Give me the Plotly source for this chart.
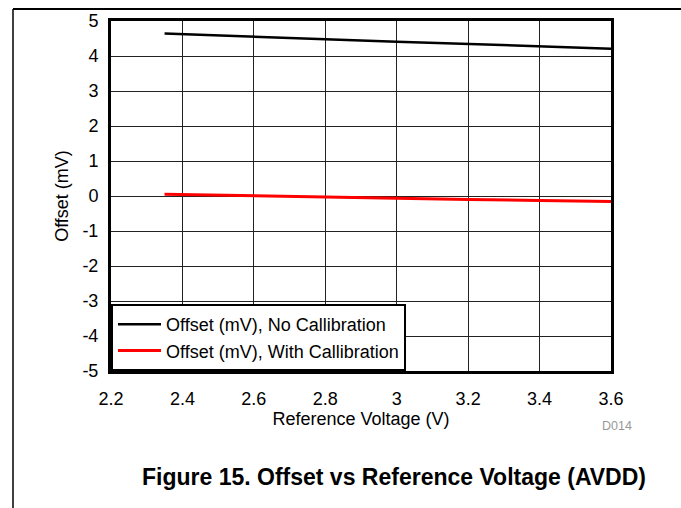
import plotly.graph_objects as go

# Data
voltage = [2.35, 2.6, 2.8, 3.0, 3.2, 3.4, 3.6]
offset_no_cal = [4.64, 4.56, 4.48, 4.41, 4.34, 4.28, 4.21]
offset_with_cal = [0.05, 0.0, -0.04, -0.07, -0.10, -0.13, -0.16]
x_ticks = [2.2, 2.4, 2.6, 2.8, 3.0, 3.2, 3.4, 3.6]
x_tick_text = ["2.2", "2.4", "2.6", "2.8", "3", "3.2", "3.4", "3.6"]
y_ticks = [-5, -4, -3, -2, -1, 0, 1, 2, 3, 4, 5]
y_tick_text = ["-5", "-4", "-3", "-2", "-1", "0", "1", "2", "3", "4", "5"]

FONT = "Arial, Liberation Sans, sans-serif"

fig = go.Figure()
fig.add_trace(go.Scatter(x=voltage, y=offset_no_cal, mode="lines",
                         name="Offset (mV), No Callibration",
                         line=dict(color="black", width=2.5)))
fig.add_trace(go.Scatter(x=voltage, y=offset_with_cal, mode="lines",
                         name="Offset (mV), With Callibration",
                         line=dict(color="#ff0000", width=3)))

fig.update_layout(
    width=681, height=508,
    margin=dict(l=111, r=70, t=21, b=137),
    paper_bgcolor="white", plot_bgcolor="white",
    font=dict(family=FONT, size=18, color="black"),
    showlegend=True,
    legend=dict(x=0, y=0, xanchor="left", yanchor="bottom",
                bgcolor="white", bordercolor="black", borderwidth=2,
                font=dict(size=18), tracegroupgap=0,
                itemwidth=43),
    xaxis=dict(range=[2.2, 3.6], tickvals=x_ticks, ticktext=x_tick_text,
               showgrid=True, gridcolor="#222", gridwidth=1,
               showline=True, linecolor="black", linewidth=3, mirror=True,
               ticks="", zeroline=False, ticklabelstandoff=9,
               title=dict(text="Reference Voltage (V)", standoff=4,
                          font=dict(size=18))),
    yaxis=dict(range=[-5, 5], tickvals=y_ticks, ticktext=y_tick_text,
               showgrid=True, gridcolor="#222", gridwidth=1,
               showline=True, linecolor="black", linewidth=3, mirror=True,
               ticks="", zeroline=False, ticklabelstandoff=6,
               title=dict(text="Offset (mV)", standoff=10,
                          font=dict(size=18))),
    shapes=[
        dict(type="line", xref="paper", yref="paper", layer="below",
             x0=-0.196, x1=1.2, y0=1.034, y1=1.034,
             line=dict(color="black", width=2)),
        dict(type="line", xref="paper", yref="paper", layer="below",
             x0=-0.196, x1=-0.196, y0=1.034, y1=-0.4,
             line=dict(color="black", width=1.5)),
    ],
    annotations=[
        dict(text="D014", xref="paper", yref="paper", x=1.045, y=-0.183,
             showarrow=False, font=dict(size=12.5, color="#999999")),
        dict(text="<b>Figure 15. Offset vs Reference Voltage (AVDD)</b>",
             xref="paper", yref="paper", x=0.565, y=-0.345,
             showarrow=False, font=dict(size=23, color="black")),
    ],
)

fig.write_html("out.html", config={"displayModeBar": False},
               post_script="document.body.style.margin='0';")
